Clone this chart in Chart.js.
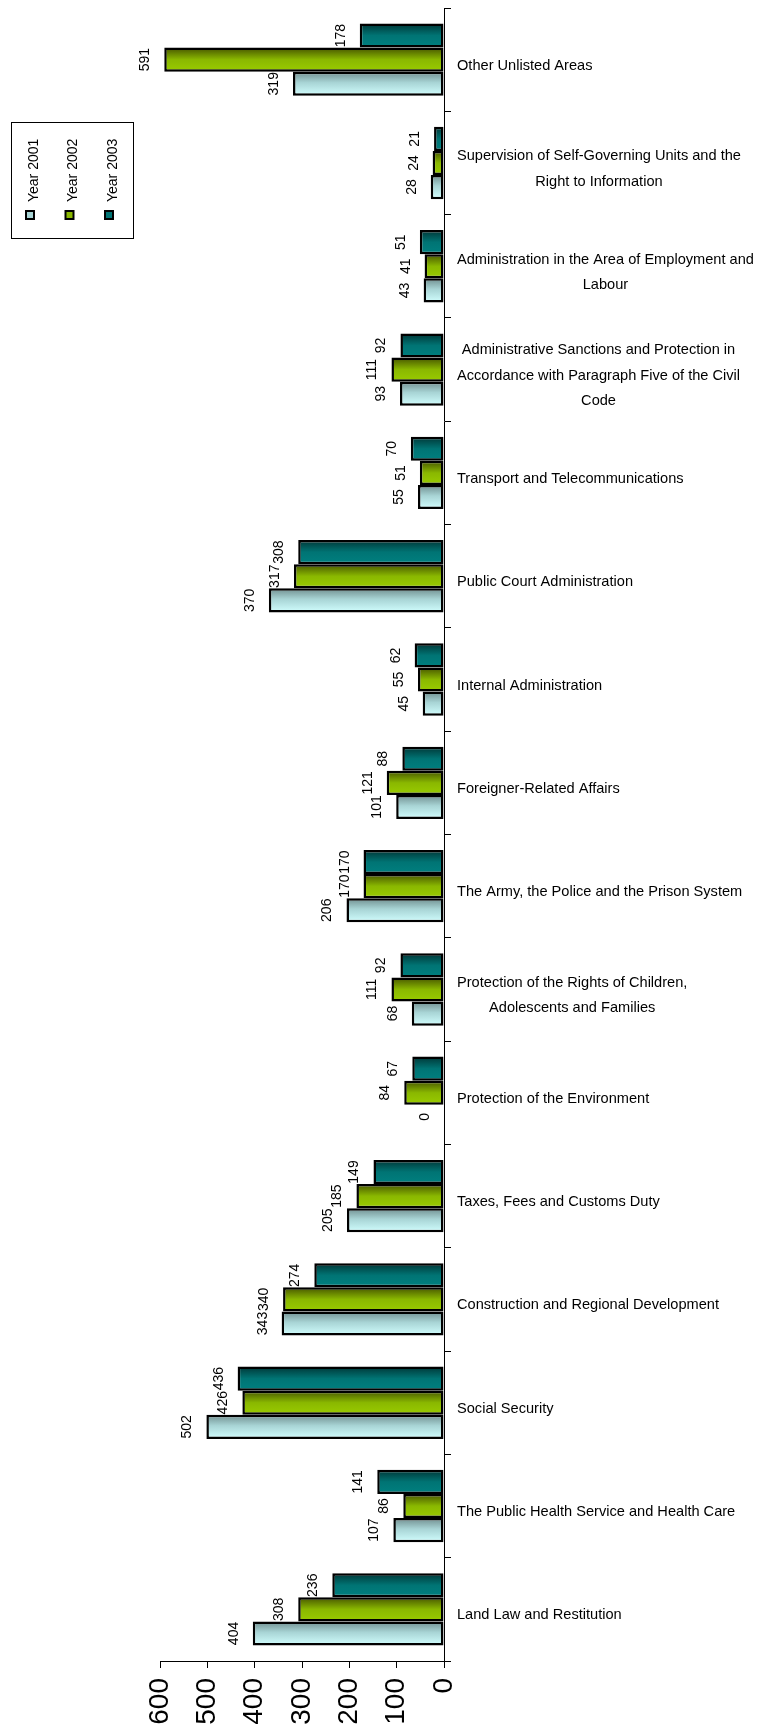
<!DOCTYPE html>
<html>
<head>
<meta charset="utf-8">
<script src="https://cdn.jsdelivr.net/npm/chart.js@4/dist/chart.umd.min.js"></script>
<style>
  html, body { margin: 0; padding: 0; background: #fff; }
  canvas { display: block; }
</style>
</head>
<body>
<canvas class="js-chart" width="762" height="1733"></canvas>
<script>
// categories listed from the top of the chart down
const categories = [
  "Other Unlisted Areas",
  ["Supervision of Self-Governing Units and the", "Right to Information"],
  ["Administration in the Area of Employment and", "Labour"],
  ["Administrative Sanctions and Protection in", "Accordance with Paragraph Five of the Civil", "Code"],
  "Transport and Telecommunications",
  "Public Court Administration",
  "Internal Administration",
  "Foreigner-Related Affairs",
  "The Army, the Police and the Prison System",
  ["Protection of the Rights of Children,", "Adolescents and Families"],
  "Protection of the Environment",
  "Taxes, Fees and Customs Duty",
  "Construction and Regional Development",
  "Social Security",
  "The Public Health Service and Health Care",
  "Land Law and Restitution",
];

const year2001 = [319, 28, 43, 93, 55, 370, 45, 101, 206, 68, 0, 205, 343, 502, 107, 404];
const year2002 = [591, 24, 41, 111, 51, 317, 55, 121, 170, 111, 84, 185, 340, 426, 86, 308];
const year2003 = [178, 21, 51, 92, 70, 308, 62, 88, 170, 92, 67, 149, 274, 436, 141, 236];

const valueTicks = [0, 100, 200, 300, 400, 500, 600];
const seriesNames = ["Year 2001", "Year 2002", "Year 2003"];

const FONT = "'Liberation Sans', Arial, sans-serif";
const CATEGORY_PCT = 0.7;

const fills = {
  y2001: [[0, "#6f8d8e"], [0.45, "#a8d4d5"], [1, "#d2ffff"]],
  y2002: [[0, "#465400"], [0.5, "#8ab800"], [1, "#9acc00"]],
  y2003: [[0, "#003535"], [0.5, "#007474"], [1, "#008080"]],
};

const ctx = document.querySelector(".js-chart").getContext("2d");

// gradient across the thickness of each bar, worked out from the category scale
function barFill(stops) {
  return (context) => {
    const chart = context.chart;
    const yScale = chart.scales.y;
    if (context.dataIndex === undefined || !yScale || !chart.chartArea) {
      return stops[stops.length - 1][1];
    }
    const step = Math.abs(yScale.getPixelForValue(1) - yScale.getPixelForValue(0));
    const group = step * CATEGORY_PCT;
    const chunk = group / 3;
    const top = yScale.getPixelForValue(context.dataIndex) - group / 2 + chunk * context.datasetIndex;
    const g = chart.ctx.createLinearGradient(0, top, 0, top + chunk);
    stops.forEach(([o, c]) => g.addColorStop(o, c));
    return g;
  };
}

function dataset(label, data, stops) {
  return {
    label: label,
    data: data,
    backgroundColor: barFill(stops),
    legendColor: stops[1][1],
    borderColor: "#000",
    borderWidth: 2.5,
    borderSkipped: false,
    categoryPercentage: CATEGORY_PCT,
    barPercentage: 1,
  };
}

// value written beside the end of each bar, turned to read upwards
const valueLabels = {
  id: "valueLabels",
  afterDatasetsDraw(chart) {
    const c = chart.ctx;
    c.save();
    c.fillStyle = "#000";
    c.font = "14px " + FONT;
    c.textAlign = "center";
    c.textBaseline = "alphabetic";
    chart.data.datasets.forEach((ds, di) => {
      chart.getDatasetMeta(di).data.forEach((bar, i) => {
        c.save();
        c.translate(bar.x - 15, bar.y);
        c.rotate(-Math.PI / 2);
        c.fillText(String(ds.data[i]), 0, 0);
        c.restore();
      });
    });
    c.restore();
  },
};

// category names right of the axis; lines of a name are centred on each other
const categoryLabels = {
  id: "categoryLabels",
  afterDraw(chart) {
    const c = chart.ctx;
    const yScale = chart.scales.y;
    const left = chart.chartArea.right + 13;
    const lineH = 25.5;
    c.save();
    c.fillStyle = "#000";
    c.font = "14.6px " + FONT;
    c.textAlign = "center";
    c.textBaseline = "middle";
    chart.data.labels.forEach((label, i) => {
      const lines = Array.isArray(label) ? label : [label];
      const w = Math.max(...lines.map((l) => c.measureText(l).width));
      const y0 = yScale.getPixelForValue(i) + 6 - ((lines.length - 1) * lineH) / 2;
      lines.forEach((l, k) => c.fillText(l, left + w / 2, y0 + k * lineH));
    });
    c.restore();
  },
};

// boxed legend, entries turned to read upwards
const sideLegend = {
  id: "sideLegend",
  afterDraw(chart) {
    const c = chart.ctx;
    c.save();
    c.strokeStyle = "#000";
    c.lineWidth = 1;
    c.strokeRect(11.5, 122.5, 122, 116);
    c.font = "14px " + FONT;
    c.textAlign = "left";
    c.textBaseline = "middle";
    seriesNames.forEach((name, i) => {
      const ds = chart.data.datasets.find((d) => d.label === name);
      const x = 30 + i * 39.5;
      c.fillStyle = ds.legendColor;
      c.fillRect(x - 4, 211, 8, 8);
      c.lineWidth = 2;
      c.strokeRect(x - 4, 211, 8, 8);
      c.save();
      c.translate(x + 4, 202);
      c.rotate(-Math.PI / 2);
      c.fillStyle = "#000";
      c.fillText(name, 0, 0);
      c.restore();
    });
    c.restore();
  },
};

drawChart(categories, [
  dataset(seriesNames[2], year2003, fills.y2003),
  dataset(seriesNames[1], year2002, fills.y2002),
  dataset(seriesNames[0], year2001, fills.y2001),
]);

function drawChart(labels, datasets) {
  new Chart(ctx, {
    type: "bar",
    data: { labels: labels, datasets: datasets },
    plugins: [valueLabels, categoryLabels, sideLegend],
    options: {
      indexAxis: "y",
      responsive: false,
      animation: false,
      layout: { padding: { left: 160, top: 8, right: 0, bottom: 0 } },
      plugins: {
        legend: { display: false },
        tooltip: { enabled: false },
      },
      scales: {
        x: {
          position: "bottom",
          min: 0,
          max: 600,
          reverse: true,
          afterBuildTicks: (scale) => {
            scale.ticks = valueTicks.map((v) => ({ value: v }));
          },
          afterFit: (scale) => {
            scale.height = 72;
          },
          ticks: {
            minRotation: 90,
            maxRotation: 90,
            padding: 10,
            color: "#000",
            font: { family: FONT, size: 28 },
          },
          grid: { drawOnChartArea: false, tickLength: 7, color: "#000" },
          border: { color: "#000", width: 1 },
        },
        y: {
          position: "right",
          afterFit: (scale) => {
            scale.width = 318;
          },
          ticks: { display: false },
          grid: { offset: true, drawOnChartArea: false, tickLength: 7, color: "#000" },
          border: { color: "#000", width: 1 },
        },
      },
    },
  });
}
</script>
</body>
</html>
